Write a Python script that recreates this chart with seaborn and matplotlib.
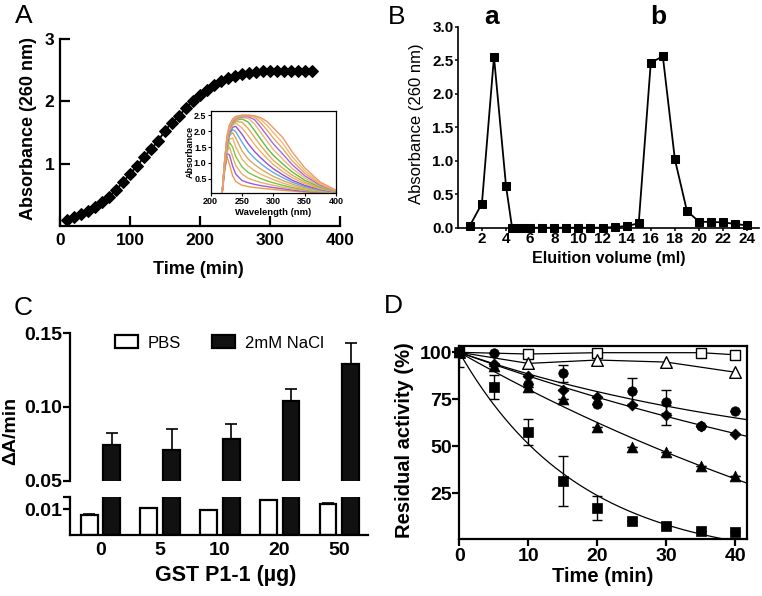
import numpy as np
import pandas as pd
import matplotlib
matplotlib.use("Agg")
import matplotlib.pyplot as plt
import seaborn as sns

# ---------------- data ----------------
# Panel A: absorbance at 260 nm vs time
time_a = [10, 20, 30, 40, 50, 60, 70, 80, 90, 100, 110, 120, 130, 140, 150, 160, 170, 180,
          190, 200, 210, 220, 230, 240, 250, 260, 270, 280, 290, 300, 310, 320, 330, 340, 350, 360]
abs_a = [0.09, 0.14, 0.19, 0.24, 0.31, 0.39, 0.47, 0.58, 0.70, 0.84, 0.96, 1.11, 1.23, 1.36,
         1.53, 1.66, 1.76, 1.90, 2.01, 2.10, 2.18, 2.26, 2.33, 2.37, 2.41, 2.44, 2.45, 2.47,
         2.48, 2.48, 2.48, 2.48, 2.49, 2.49, 2.49, 2.49]

# Panel A inset: absorbance spectra
inset_wavelength = [218, 222, 226, 230, 235, 240, 250, 260, 270, 280, 290, 300, 315, 330, 350, 375, 400]
inset_spectra = [
    [0, 0.70, 1.20, 0.95, 0.60, 0.42, 0.30, 0.26, 0.23, 0.21, 0.19, 0.17, 0.14, 0.12, 0.09, 0.07, 0.05],
    [0, 0.75, 1.30, 1.25, 0.90, 0.65, 0.45, 0.38, 0.33, 0.29, 0.26, 0.23, 0.19, 0.15, 0.11, 0.08, 0.06],
    [0, 0.80, 1.35, 1.50, 1.20, 0.92, 0.65, 0.52, 0.45, 0.39, 0.34, 0.30, 0.24, 0.19, 0.14, 0.09, 0.06],
    [0, 0.80, 1.40, 1.65, 1.50, 1.20, 0.88, 0.70, 0.60, 0.51, 0.44, 0.38, 0.30, 0.23, 0.16, 0.10, 0.07],
    [0, 0.85, 1.45, 1.75, 1.78, 1.50, 1.12, 0.90, 0.76, 0.65, 0.56, 0.48, 0.37, 0.28, 0.19, 0.12, 0.07],
    [0, 0.85, 1.50, 1.85, 1.95, 1.78, 1.38, 1.12, 0.95, 0.81, 0.69, 0.58, 0.45, 0.34, 0.22, 0.13, 0.08],
    [0, 0.90, 1.55, 1.90, 2.05, 1.98, 1.65, 1.36, 1.15, 0.98, 0.83, 0.70, 0.54, 0.40, 0.26, 0.15, 0.09],
    [0, 0.90, 1.60, 1.95, 2.12, 2.15, 1.90, 1.60, 1.36, 1.16, 0.98, 0.82, 0.63, 0.46, 0.30, 0.17, 0.09],
    [0, 0.95, 1.65, 2.00, 2.18, 2.25, 2.10, 1.85, 1.58, 1.35, 1.14, 0.95, 0.73, 0.54, 0.35, 0.19, 0.10],
    [0, 0.95, 1.70, 2.05, 2.22, 2.30, 2.28, 2.08, 1.80, 1.54, 1.30, 1.08, 0.84, 0.62, 0.40, 0.21, 0.10],
    [0, 0.95, 1.72, 2.08, 2.25, 2.34, 2.38, 2.28, 2.02, 1.74, 1.47, 1.24, 0.97, 0.72, 0.46, 0.24, 0.11],
    [0, 1.00, 1.75, 2.10, 2.28, 2.37, 2.42, 2.40, 2.22, 1.95, 1.68, 1.42, 1.12, 0.83, 0.53, 0.27, 0.12],
    [0, 1.00, 1.78, 2.12, 2.30, 2.40, 2.45, 2.45, 2.36, 2.12, 1.86, 1.60, 1.28, 0.95, 0.60, 0.30, 0.12],
    [0, 1.00, 1.80, 2.15, 2.33, 2.42, 2.47, 2.48, 2.44, 2.26, 2.03, 1.78, 1.45, 1.07, 0.68, 0.33, 0.13],
    [0, 1.00, 1.82, 2.18, 2.36, 2.45, 2.50, 2.50, 2.47, 2.36, 2.18, 1.95, 1.62, 1.20, 0.76, 0.36, 0.14],
    [0, 1.00, 1.85, 2.20, 2.38, 2.46, 2.50, 2.50, 2.48, 2.42, 2.30, 2.10, 1.80, 1.35, 0.85, 0.40, 0.15],
]
inset_colors = ['#ec9c48', '#a05ad8', '#e6b066', '#7cc24a', '#e9b46c', '#d9a85c', '#63a8e6',
                '#9a50d4', '#edb26a', '#e3aa58', '#5fbf45', '#efb875', '#a468e0', '#e9a95e',
                '#f0bb7c', '#ec9a6a']

# Panel B: elution profile
elution_ml = [1, 2, 3, 4, 4.5, 5, 5.5, 6, 7, 8, 9, 10, 11, 12, 13, 14, 15, 16, 17, 18, 19, 20, 21, 22, 23, 24]
abs_b = [0.03, 0.36, 2.55, 0.62, 0.0, 0.0, 0.0, 0.0, 0.0, 0.0, 0.0, 0.0, 0.0, 0.0, 0.01, 0.025,
         0.065, 2.46, 2.56, 1.02, 0.25, 0.09, 0.085, 0.08, 0.055, 0.035]

# Panel C: GST activity
doses = ['0', '5', '10', '20', '50']
conditions = ['PBS', '2mM NaCl']
pbs = [0.0078, 0.0106, 0.0097, 0.0137, 0.0120]
pbs_err = [0.0003, 0.0, 0.0, 0.0, 0.0003]
nacl = [0.0744, 0.0708, 0.0780, 0.1037, 0.1292]
nacl_err = [0.0077, 0.0142, 0.0106, 0.0082, 0.0138]

# Panel D: residual activity
times_d = [0, 5, 10, 15, 20, 25, 30, 35, 40]
sq_filled = [100, 81.6, 57.6, 31.7, 17.0, 10.4, 7.6, 5.1, 4.2]
sq_filled_err = [8, 6.5, 6.7, 13.3, 6.4, 0, 0, 0, 0]
tri_filled = [100, 92.5, 81.5, 75.2, 60.4, 49.8, 47.2, 39.6, 34.2]
tri_filled_err = [0, 0, 0, 0, 0, 0, 0, 0, 0]
circle_filled = [100, 99.8, 83.0, 88.8, 72.5, 79.6, 73.7, 60.8, 68.9]
circle_filled_err = [0, 0, 0, 4.4, 0, 6.9, 6.0, 0, 0]
diamond_filled = [100, 94.0, 87.5, 79.8, 76.1, 72.0, 66.6, 61.0, 56.3]
diamond_filled_err = [0, 0, 0, 0, 0, 0, 5.3, 0, 0]
times_open_sq = [0, 10, 20, 35, 40]
sq_open = [100, 99.1, 99.8, 99.8, 98.7]
times_open_tri = [0, 10, 20, 30, 40]
tri_open = [100, 94.1, 95.9, 94.8, 89.4]

# ---------------- style ----------------
sns.set_theme(style="ticks", rc={
    "axes.edgecolor": "black", "xtick.color": "black", "ytick.color": "black",
    "text.color": "black", "axes.labelcolor": "black", "axes.facecolor": "white",
})
plt.rcParams["font.family"] = ["Liberation Sans", "DejaVu Sans"]
plt.rcParams["font.weight"] = "bold"
plt.rcParams["axes.labelweight"] = "bold"

W, H = 762, 596
fig = plt.figure(figsize=(W / 100, H / 100), dpi=100)


def px_axes(box):
    l, t, r, b = box
    return fig.add_axes([l / W, 1 - b / H, (r - l) / W, (b - t) / H])


def place_label(ax, box, which, text, cx, cy, **kw):
    l, t, r, b = box
    axx = (cx - l) / (r - l)
    axy = (b - cy) / (b - t)
    if which == "x":
        ax.set_xlabel(text, va="center", ha="center", **kw)
        ax.xaxis.set_label_coords(axx, axy)
    else:
        ax.set_ylabel(text, va="center", ha="center", rotation=90, **kw)
        ax.yaxis.set_label_coords(axx, axy)


def fig_text(x, y, s, **kw):
    fig.text(x / W, 1 - y / H, s, **kw)


# ---------------- Panel A ----------------
boxA = (60, 39, 340, 226)
axA = px_axes(boxA)
sns.lineplot(x=time_a, y=abs_a, ax=axA, color="black", marker="D", markersize=6.3,
             markeredgecolor="black", linewidth=1.4)
axA.set_xlim(0, 400)
axA.set_ylim(0, 3)
axA.set_xticks([0, 100, 200, 300, 400])
axA.set_yticks([1, 2, 3])
axA.tick_params(direction="in", length=7, width=1.6, labelsize=12.5)
axA.tick_params(axis="x", pad=5)
axA.tick_params(axis="y", pad=4)
for s in ["top", "right"]:
    axA.spines[s].set_visible(False)
for s in ["left", "bottom"]:
    axA.spines[s].set_linewidth(1.6)
place_label(axA, boxA, "x", "Time (min)", 198.5, 270, fontsize=13)
place_label(axA, boxA, "y", "Absorbance (260 nm)", 29, 129, fontsize=13)

# inset
boxI = (210.7, 111, 336, 193.3)
axI = px_axes(boxI)
spec_rows = []
for i, curve in enumerate(inset_spectra):
    for wl, v in zip(inset_wavelength, curve):
        spec_rows.append({"wl": wl, "abs": v, "curve": i})
spec_df = pd.DataFrame(spec_rows)
sns.lineplot(data=spec_df, x="wl", y="abs", hue="curve", palette=inset_colors,
             legend=False, ax=axI, linewidth=1.0)
axI.set_xlim(200, 400)
axI.set_ylim(0.05, 2.63)
axI.set_xticks([200, 250, 300, 350, 400])
axI.set_yticks([0.5, 1.0, 1.5, 2.0, 2.5])
axI.set_yticklabels(["0.5", "1.0", "1.5", "2.0", "2.5"])
axI.tick_params(direction="out", length=2, width=0.8, labelsize=6.5, pad=1)
for s in axI.spines.values():
    s.set_linewidth(0.9)
place_label(axI, boxI, "x", "Wavelength (nm)", 273.5, 212.5, fontsize=6.8)
place_label(axI, boxI, "y", "Absorbance", 190, 152, fontsize=6.5)

# ---------------- Panel B ----------------
boxB = (457.8, 26.7, 759.3, 227.7)
axB = px_axes(boxB)
sns.lineplot(x=elution_ml, y=abs_b, ax=axB, color="black", marker="s", markersize=6.2,
             markeredgecolor="black", linewidth=1.3, clip_on=False)
axB.set_xlim(0, 25)
axB.set_ylim(0, 3)
axB.set_xticks(list(range(2, 25, 2)))
axB.set_yticks([0, 0.5, 1.0, 1.5, 2.0, 2.5, 3.0])
axB.set_yticklabels(["0.0", "0.5", "1.0", "1.5", "2.0", "2.5", "3.0"])
axB.tick_params(direction="out", length=2.5, width=1.1, labelsize=11)
axB.tick_params(axis="y", pad=0.5)
axB.tick_params(axis="x", pad=0.3)
for s in ["top", "right"]:
    axB.spines[s].set_visible(False)
for s in ["left", "bottom"]:
    axB.spines[s].set_linewidth(1.2)
place_label(axB, boxB, "x", "Eluition volume (ml)", 608.5, 259, fontsize=11.5)
place_label(axB, boxB, "y", "Absorbance (260 nm)", 416, 124, fontsize=12, fontweight="normal")
fig_text(492, 24, "a", fontsize=19, fontweight="bold", ha="center", va="baseline")
fig_text(658.5, 24, "b", fontsize=19, fontweight="bold", ha="center", va="baseline")

# ---------------- Panel C ----------------
c_df = pd.DataFrame({
    "dose": doses * 2,
    "condition": [conditions[0]] * len(doses) + [conditions[1]] * len(doses),
    "rate": pbs + nacl,
})
c_err = pbs_err + nacl_err
c_pal = {"PBS": "white", "2mM NaCl": "#111111"}
boxCt = (70, 333, 368, 480.7)
boxCb = (70, 497.3, 368, 534.7)
axCt = px_axes(boxCt)
axCb = px_axes(boxCb)
dodge_w = 0.76
for ax, show_leg in [(axCt, True), (axCb, False)]:
    sns.barplot(data=c_df, x="dose", y="rate", hue="condition", order=doses,
                hue_order=conditions, palette=c_pal, saturation=1, width=dodge_w, gap=0.26,
                edgecolor="black", linewidth=1.6, errorbar=None, ax=ax, legend=show_leg)
    xpos = [i - dodge_w / 4 for i in range(len(doses))] + [i + dodge_w / 4 for i in range(len(doses))]
    lower = [0] * len(c_err)
    ax.errorbar(xpos, c_df["rate"], yerr=[lower, c_err], fmt="none", ecolor="black",
                elinewidth=1.2, capsize=4, capthick=1.2, zorder=0)
    ax.set_xlim(-0.51, 4.48)
    ax.set_xlabel("")
    ax.set_ylabel("")
    for s in ["top", "right"]:
        ax.spines[s].set_visible(False)
    for s in ["left", "bottom"]:
        ax.spines[s].set_linewidth(1.6)

axCt.set_ylim(0.05, 0.15)
axCt.set_yticks([0.05, 0.10, 0.15])
axCt.set_yticklabels(["0.05", "0.10", "0.15"])
axCt.spines["bottom"].set_visible(False)
axCt.tick_params(axis="x", bottom=False, labelbottom=False)
axCt.tick_params(axis="y", direction="out", length=5, width=1.6, labelsize=14, pad=0.5)

axCb.set_ylim(0, 0.0147)
axCb.set_yticks([0.01, 0.0147])
axCb.set_yticklabels(["0.01", ""])
axCb.tick_params(axis="y", direction="out", length=5, width=1.6, labelsize=14, pad=0.5)
axCb.tick_params(axis="x", length=0, labelsize=14, pad=5)

handles, labels = axCt.get_legend_handles_labels()
axCt.legend(handles, labels, loc="upper left", bbox_to_anchor=(0.151, 0.985), ncol=2,
            frameon=False, borderpad=0, borderaxespad=0, handlelength=1.38,
            handleheight=0.84, handletextpad=0.6, columnspacing=1.85,
            prop={"size": 12, "weight": "normal"})
place_label(axCb, boxCb, "x", "GST P1-1 (\u00b5g)", 225.7, 575, fontsize=15.5)
place_label(axCt, boxCt, "y", "\u0394A/min", 11, 431, fontsize=14)

# ---------------- Panel D ----------------
boxD = (459.3, 346.3, 746.7, 538.7)
axD = px_axes(boxD)
xmax_d = 41.65
t_fit = np.linspace(0, xmax_d, 300)


def fit_decay(t, y):
    t = np.asarray(t, float)
    y = np.asarray(y, float)
    best = (np.inf, None, None)
    for k in np.linspace(0.002, 0.4, 4000):
        e = np.exp(-k * t)
        a = 1 - e
        r = y - 100 * e
        p = (a @ r) / (a @ a)
        sse = ((r - p * a) ** 2).sum()
        if sse < best[0]:
            best = (sse, k, p)
    return best[1], best[2]


filled = [
    (circle_filled, circle_filled_err, "o", 6.8),
    (diamond_filled, diamond_filled_err, "D", 5.6),
    (tri_filled, tri_filled_err, "^", 7.8),
    (sq_filled, sq_filled_err, "s", 6.6),
]
for vals, errs, mk, ms in filled:
    k, p = fit_decay(times_d, vals)
    axD.plot(t_fit, p + (100 - p) * np.exp(-k * t_fit), color="black", lw=0.9, zorder=2)
    axD.errorbar(times_d, vals, yerr=errs, fmt="none", ecolor="black", elinewidth=1.0,
                 capsize=3.6, capthick=1.0, zorder=3)

sns.lineplot(x=times_open_sq, y=sq_open, ax=axD, color="black", lw=0.9, zorder=2)
sns.lineplot(x=times_open_tri, y=tri_open, ax=axD, color="black", lw=0.9, zorder=2)
sns.scatterplot(x=times_open_sq, y=sq_open, ax=axD, marker="s", s=52, facecolor="white",
                edgecolor="black", linewidth=1.0, zorder=4)
sns.scatterplot(x=times_open_tri, y=tri_open, ax=axD, marker="^", s=70, facecolor="white",
                edgecolor="black", linewidth=1.0, zorder=4)
for vals, errs, mk, ms in filled:
    sns.scatterplot(x=times_d, y=vals, ax=axD, marker=mk, s=ms ** 2 * 1.0, color="black",
                    edgecolor="black", linewidth=0.5, zorder=5, clip_on=False)

axD.set_xlim(0, xmax_d)
axD.set_ylim(0.85, 103.2)
axD.set_xticks([0, 10, 20, 30, 40])
axD.set_yticks([25, 50, 75, 100])
axD.tick_params(direction="out", length=5, width=1.6, labelsize=14)
axD.tick_params(axis="y", pad=0.5)
axD.tick_params(axis="x", pad=2)
for s in axD.spines.values():
    s.set_linewidth(1.6)
place_label(axD, boxD, "x", "Time (min)", 602.7, 576.5, fontsize=14.5)
place_label(axD, boxD, "y", "Residual activity (%)", 404, 440, fontsize=14.5)

# ---------------- panel letters ----------------
for (x, y, s) in [(24, 23, "A"), (397, 24, "B"), (23, 315, "C"), (393, 313, "D")]:
    fig_text(x, y, s, fontsize=19, fontweight="normal", ha="center", va="baseline")

fig.savefig("out.png", dpi=100, facecolor="white")
